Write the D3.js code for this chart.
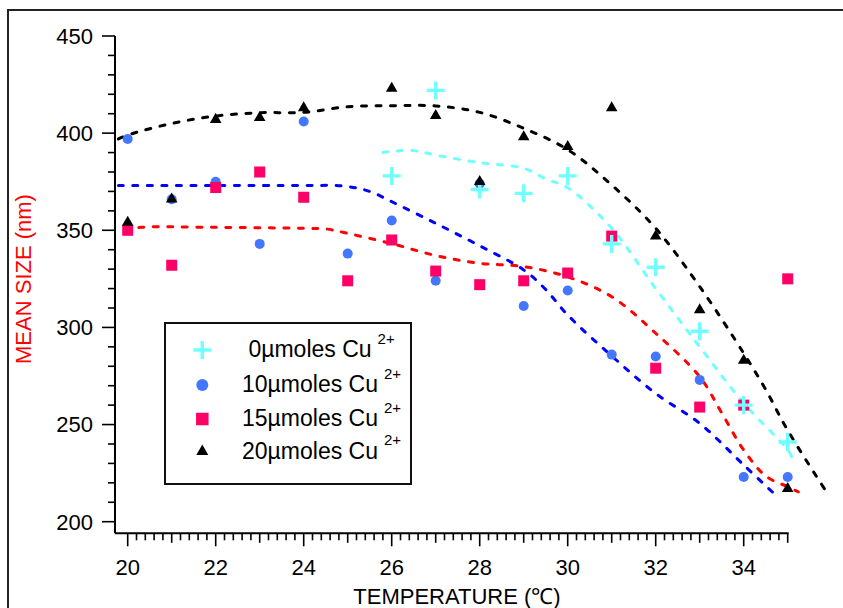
<!DOCTYPE html>
<html><head><meta charset="utf-8">
<script src="https://cdn.jsdelivr.net/npm/d3@7"></script>
<style>body{margin:0;background:#fff}svg{display:block}text{font-family:"Liberation Sans",Arial,Helvetica,sans-serif}</style>
</head><body>
<script>
// ---- data ----
const temps = [20,21,22,23,24,25,26,27,28,29,30,31,32,33,34,35];
const cyanTemps = [26,27,28,29,30,31,32,33,34,35];
const cyanVals  = [378,422,371,369,378,343,331,298,260,241];
const blueVals  = [397,366,375,343,406,338,355,324,374,311,319,286,285,273,223,223];
const pinkVals  = [350,332,372,380,367,324,345,329,322,324,328,347,279,259,260,325];
const blackTemps = [20,21,22,23,24,26,27,28,29,30,31,32,33,34,35];
const blackVals  = [354,366,407,408,413,423,409,375,398,393,413,347,309,283,217];

// fitted trend curves
const cyanFitT = [25.8,26,26.5,27,28,29,29.5,30,31,32,33,34,35,35.11];
const cyanFitV = [390,390.6,391,388.7,384.8,381.9,376.4,371.9,351,320,290,261,237,232.6];
const blueFitT = [19.79,20,22,24,24.9,25.5,26,27,28,29,29.5,30,31,32,33,34,34.75];
const blueFitV = [373,373,373,373,372.8,370,364.7,353.6,342,329.6,319.5,306.4,285.3,266,250.6,229.2,213.2];
const redFitT  = [19.93,20.3,22,24,24.5,25,26,27,28,29,30,31,32,33,33.5,34,34.5,35,35.24];
const redFitV  = [350,351.5,351.5,351,350.7,348.4,343.1,337,333,331.3,326,315.8,297,274.6,256,236.9,223.5,218,215.4];
const blackFitT = [19.79,20,21,22,23,24,25,26,27,28,29,30,31,32,33,34,34.5,35,35.88];
const blackFitV = [397,399,405,408.8,410.5,410.7,413.6,414.1,414,410.7,402.5,391.5,373.3,351,321,286.7,268,247,215.4];

const yTickLabels = [200,250,300,350,400,450];
const xTickLabels = [20,22,24,26,28,30,32,34];
const legendLabels = ["0\u00b5moles Cu","10\u00b5moles Cu","15\u00b5moles Cu","20\u00b5moles Cu"];

// ---- setup ----
const W=843,H=608;
const svg=d3.select("body").append("svg").attr("width",W).attr("height",H);
const x=d3.scaleLinear().domain([20,35]).range([127.7,787.7]);
const y=d3.scaleLinear().domain([200,450]).range([521.7,36]);
const axisX0=115, axisY0=533.3;
const font=22;

// outer frame
svg.append("path").attr("d","M8,700V10H900").attr("fill","none").attr("stroke","#222").attr("stroke-width",2);

// axes lines
svg.append("line").attr("x1",axisX0).attr("x2",axisX0).attr("y1",y(450)).attr("y2",axisY0).attr("stroke","#000").attr("stroke-width",2);
svg.append("line").attr("x1",axisX0).attr("x2",x(35)+1).attr("y1",axisY0).attr("y2",axisY0).attr("stroke","#000").attr("stroke-width",2);

// y ticks
const yt=d3.range(200,451,10);
svg.selectAll(".yt").data(yt).join("line")
  .attr("x1",axisX0).attr("x2",d=>axisX0-(d%50===0?13:7))
  .attr("y1",d=>y(d)).attr("y2",d=>y(d)).attr("stroke","#000").attr("stroke-width",1.6);
svg.selectAll(".yl").data(yTickLabels).join("text")
  .attr("x",93).attr("y",d=>y(d)).attr("dy","0.36em").attr("text-anchor","end")
  .attr("font-size",font).text(d=>d);

// x ticks
const xt=d3.range(0,76).map(i=>20+i*0.2);
svg.selectAll(".xt").data(xt).join("line")
  .attr("x1",d=>x(d)).attr("x2",d=>x(d)).attr("y1",axisY0)
  .attr("y2",d=>{const r=Math.round(d*10)/10; if(Math.abs(r-Math.round(r))<1e-6){return axisY0+(Math.round(r)%2===0?13:9.5);} return axisY0+7;})
  .attr("stroke","#000").attr("stroke-width",1.6);
svg.selectAll(".xl").data(xTickLabels).join("text")
  .attr("x",d=>x(d)).attr("y",575).attr("text-anchor","middle")
  .attr("font-size",font).text(d=>d);

// axis titles
svg.append("text").attr("x",457).attr("y",604).attr("text-anchor","middle").attr("font-size",font).text("TEMPERATURE (\u2103)");
svg.append("text").attr("transform","translate(30.5,279) rotate(-90)").attr("text-anchor","middle")
  .attr("font-size",font).attr("fill","#ff0000").text("MEAN SIZE (nm)");

// fit curves
const line=d3.line().x(d=>x(d[0])).y(d=>y(d[1])).curve(d3.curveCatmullRom.alpha(0.5));
function fit(ts,vs,color){
  svg.append("path").attr("d",line(ts.map((t,i)=>[t,vs[i]])))
   .attr("fill","none").attr("stroke",color).attr("stroke-width",3)
   .attr("stroke-dasharray","5,9.5").attr("stroke-linecap","round");
}
fit(blackFitT,blackFitV,"#000000");
fit(cyanFitT,cyanFitV,"#70ffff");
fit(blueFitT,blueFitV,"#0000ff");
fit(redFitT,redFitV,"#ff0000");

// markers
const C_CYAN="#70ffff",C_BLUE="#4477ff",C_PINK="#ff0066",C_BLACK="#000";
function plus(g,cx,cy,s){g.append("path").attr("d",`M${cx-s},${cy}H${cx+s}M${cx},${cy-s}V${cy+s}`).attr("stroke",C_CYAN).attr("stroke-width",3.4).attr("fill","none");}
function circ(g,cx,cy,r){g.append("circle").attr("cx",cx).attr("cy",cy).attr("r",r).attr("fill",C_BLUE);}
function sq(g,cx,cy,s){g.append("rect").attr("x",cx-s/2).attr("y",cy-s/2).attr("width",s).attr("height",s).attr("fill",C_PINK);}
function tri(g,cx,cy,sz){g.append("path").attr("d",d3.symbol(d3.symbolTriangle,sz)()).attr("transform",`translate(${cx},${cy})`).attr("fill",C_BLACK);}

const gm=svg.append("g");
temps.forEach((t,i)=>circ(gm,x(t),y(blueVals[i]),5));
temps.forEach((t,i)=>sq(gm,x(t),y(pinkVals[i]),11));
cyanTemps.forEach((t,i)=>plus(gm,x(t),y(cyanVals[i]),9));
blackTemps.forEach((t,i)=>tri(gm,x(t),y(blackVals[i]),58));

// legend
svg.append("rect").attr("x",165).attr("y",323).attr("width",246).attr("height",161)
  .attr("fill","#fff").attr("stroke","#111").attr("stroke-width",2);
const rowsY=[350,385,419,451.5];
const lg=svg.append("g");
plus(lg,202.3,rowsY[0],9);
circ(lg,202.3,rowsY[1],6);
sq(lg,202.3,rowsY[2],12.5);
tri(lg,202.3,rowsY[3],62);
legendLabels.forEach((lab,i)=>{
  const t=lg.append("text").attr("x",310).attr("y",rowsY[i]+7).attr("text-anchor","middle").attr("font-size",23).text(lab);
  const len=t.node().getComputedTextLength();
  lg.append("text").attr("x",310+len/2+6).attr("y",rowsY[i]+7-13.5).attr("font-size",15).text("2+");
});
</script>
</body></html>
